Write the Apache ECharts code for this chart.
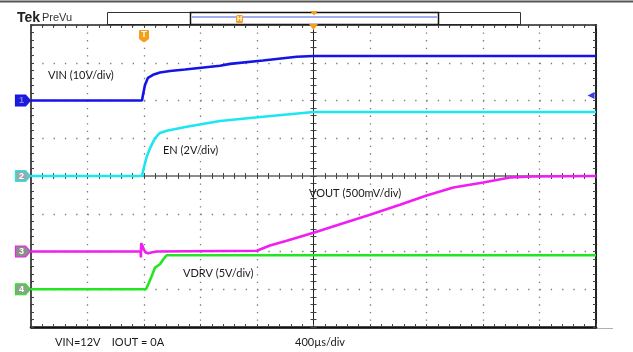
<!DOCTYPE html>
<html>
<head>
<meta charset="utf-8">
<script src="https://cdn.jsdelivr.net/npm/echarts@6/dist/echarts.min.js"></script>
<style>html,body{margin:0;padding:0;background:#fff;}#c{width:633px;height:352px;}</style>
</head>
<body>
<div id="c"></div>
<script>
// ---- data read from the scope capture (time in µs, values in volts) ----
const channelNames = ['VIN', 'EN', 'VOUT', 'VDRV'];
const channelLabels = ['VIN (10V/div)', 'EN (2V/div)', 'VOUT (500mV/div)', 'VDRV (5V/div)'];
const voltsPerDiv = [10, 2, 0.5, 5];
const groundDiv = [2, 0, -2, -3];

const vinT = [-2000, -1214, -1207, -1193, -1172, -1136, -1087, -1016, -910, -662, -591, -358, -119, 0, 2000];
const vinV = [0, 0, 1.5, 4.1, 6.0, 6.8, 7.4, 7.8, 8.2, 9.2, 9.7, 10.6, 11.6, 11.8, 11.8];

const enT = [-2000, -1214, -1205, -1181, -1157, -1122, -1087, -1039, -898, -662, -358, 0, 2000];
const enV = [0, 0, 0.32, 1.02, 1.48, 2.01, 2.28, 2.4, 2.61, 2.91, 3.14, 3.39, 3.39];

const voutT = [-2000, -1224, -1222, -1220, -1212, -1200, -1185, -1170, -1140, -1108, -401, -308, -190, 6, 188, 400, 612, 801, 990, 1202, 1391, 1554, 2000];
const voutV = [0, 0, -0.08, 0.11, 0.08, 0.02, -0.015, -0.023, -0.01, 0, 0.009, 0.079, 0.142, 0.252, 0.362, 0.486, 0.618, 0.742, 0.848, 0.914, 0.98, 0.993, 1.0];

const vdrvT = [-2000, -1186, -1170, -1145, -1122, -1087, -1063, -1039, 2000];
const vdrvV = [0, 0, 0.66, 1.76, 2.87, 3.31, 3.97, 4.5, 4.5];

const timeMin = -2000, timeMax = 2000, timePerDiv = 400;
const divMin = -4, divMax = 4;
const triggerTime = -1200;
const triggerLevelVin = 1.3;
const footerLeft = 'VIN=12V    IOUT = 0A';
const footerTime = '400µs/div';

// ---- styles ----
const traceColors = ['#1414e6', '#1ee6f0', '#f01ef0', '#22e622'];
const markerFill = ['#1c1ce0', '#8fb0b0', '#8c8c8c', '#84a884'];
const markerText = ['#8a8ad0', '#ffffff', '#ffffff', '#ffffff'];
const orange = '#f5a01a';

const times = [vinT, enT, voutT, vdrvT];
const volts = [vinV, enV, voutV, vdrvV];

function toDiv(v, i) { return groundDiv[i] + v / voltsPerDiv[i]; }

const chart = echarts.init(document.getElementById('c'), null, {renderer: 'canvas'});

const tickStyle = {color: '#444', width: 1};
function baseX(extra) {
  return Object.assign({type: 'value', min: timeMin, max: timeMax, interval: timePerDiv,
    axisLabel: {show: false}, splitLine: {show: false}}, extra);
}
function baseY(extra) {
  return Object.assign({type: 'value', min: divMin, max: divMax, interval: 1,
    axisLabel: {show: false}, splitLine: {show: false}}, extra);
}

const xAxes = [
  baseX({position: 'bottom',
    axisLine: {onZero: false, lineStyle: {color: '#111', width: 2.5}},
    axisTick: {show: true, inside: true, length: 3, lineStyle: tickStyle},
    minorTick: {show: true, splitNumber: 5, length: 3, lineStyle: tickStyle},
    splitLine: {show: true, lineStyle: {color: '#7a7a7a', width: 1.3, type: [1.3, 6.25]}}}),
  baseX({position: 'top',
    axisLine: {onZero: false, lineStyle: {color: '#222', width: 1.5}},
    axisTick: {show: true, inside: true, length: 3, lineStyle: tickStyle},
    minorTick: {show: true, splitNumber: 5, length: 3, lineStyle: tickStyle}}),
  baseX({position: 'bottom',
    axisLine: {onZero: true, onZeroAxisIndex: 0, lineStyle: {color: '#8c8c8c', width: 2}},
    axisTick: {show: true, inside: false, length: 3, lineStyle: tickStyle},
    minorTick: {show: true, splitNumber: 5, length: 3, lineStyle: tickStyle}}),
  baseX({position: 'bottom',
    axisLine: {show: false, onZero: true, onZeroAxisIndex: 0},
    axisTick: {show: true, inside: true, length: 3, lineStyle: tickStyle},
    minorTick: {show: true, splitNumber: 5, length: 3, lineStyle: tickStyle}})
];
const yAxes = [
  baseY({position: 'left',
    axisLine: {show: true, onZero: false, lineStyle: {color: '#111', width: 1.5}},
    axisTick: {show: true, inside: true, length: 3, lineStyle: tickStyle},
    minorTick: {show: true, splitNumber: 5, length: 3, lineStyle: tickStyle},
    splitLine: {show: true, lineStyle: {color: '#7a7a7a', width: 1.3, type: [1.3, 10.0]}}}),
  baseY({position: 'right',
    axisLine: {show: true, onZero: false, lineStyle: {color: '#222', width: 2}},
    axisTick: {show: true, inside: true, length: 3, lineStyle: tickStyle},
    minorTick: {show: true, splitNumber: 5, length: 3, lineStyle: tickStyle}}),
  baseY({position: 'left',
    axisLine: {show: true, onZero: true, onZeroAxisIndex: 0, lineStyle: {color: '#222', width: 1}},
    axisTick: {show: true, inside: false, length: 3, lineStyle: tickStyle},
    minorTick: {show: true, splitNumber: 5, length: 3, lineStyle: tickStyle}}),
  baseY({position: 'left',
    axisLine: {show: false, onZero: true, onZeroAxisIndex: 0},
    axisTick: {show: true, inside: true, length: 3, lineStyle: tickStyle},
    minorTick: {show: true, splitNumber: 5, length: 3, lineStyle: tickStyle}})
];

const series = channelNames.map(function (name, i) {
  const data = times[i].map(function (t, k) { return [t, toDiv(volts[i][k], i)]; });
  const marks = [{
    coord: [timeMin, groundDiv[i]],
    symbol: 'path://M0,0 L10,0 L15,5.5 L10,11 L0,11 Z',
    symbolSize: [15, 11], symbolOffset: [-8, 0],
    itemStyle: {color: markerFill[i], borderColor: traceColors[i], borderWidth: 1},
    label: {show: true, formatter: String(i + 1), color: markerText[i], fontSize: 9,
      fontWeight: 'bold', fontFamily: 'Liberation Sans', offset: [-1.5, 0.5]}
  }];
  if (i === 0) {
    marks.push({
      coord: [timeMax, toDiv(triggerLevelVin, 0)],
      symbol: 'triangle', symbolRotate: 90, symbolSize: [7, 7], symbolOffset: [-5, 0],
      itemStyle: {color: '#3a3af0'}, label: {show: false}
    });
    marks.push({
      coord: [triggerTime, divMax],
      symbol: 'path://M1,0 L9,0 Q10,0 10,1 L10,9 L6,12 L4,12 L0,9 L0,1 Q0,0 1,0 Z',
      symbolSize: [10, 12], symbolOffset: [0, 11],
      itemStyle: {color: orange},
      label: {show: true, formatter: 'T', color: '#fff', fontSize: 9, fontWeight: 'bold',
        fontFamily: 'Liberation Sans', offset: [0, -1]}
    });
    marks.push({
      coord: [0, divMax],
      symbol: 'triangle', symbolRotate: 180, symbolSize: [9, 6], symbolOffset: [0, 2],
      itemStyle: {color: orange}, label: {show: false}
    });
  }
  return {
    type: 'line', name: name, data: data, xAxisIndex: 0, yAxisIndex: 0,
    showSymbol: false, symbol: 'none', z: 3 + i,
    lineStyle: {color: traceColors[i], width: 2.6},
    itemStyle: {color: traceColors[i]},
    markPoint: {data: marks, animation: false, silent: true}
  };
});

const labelFont = '11px Lato';
const graphics = [
  {type: 'line', shape: {x1: 0, y1: 1.5, x2: 633, y2: 1.5}, style: {stroke: '#555', lineWidth: 2}},
  {type: 'text', left: 17, top: 11, style: {text: 'Tek', font: 'bold 14px "Liberation Sans"', fill: '#222'}},
  {type: 'text', left: 42, top: 12, style: {text: 'PreVu', font: '11px "Liberation Sans"', fill: '#333'}},
  {type: 'rect', shape: {x: 107.5, y: 12.5, width: 413, height: 12}, style: {fill: 'none', stroke: '#333', lineWidth: 1}},
  {type: 'rect', shape: {x: 190.5, y: 12.5, width: 248, height: 12}, style: {fill: 'none', stroke: '#111', lineWidth: 1.5}},
  {type: 'line', shape: {x1: 192, y1: 17, x2: 437, y2: 17}, style: {stroke: '#4a5ae0', lineWidth: 1}},
  {type: 'rect', shape: {x: 236, y: 15, width: 7, height: 8, r: 1.5}, style: {fill: orange}},
  {type: 'text', x: 239.5, y: 19, style: {text: 'H', font: 'bold 7px "Liberation Sans"', fill: '#fff', textAlign: 'center', textVerticalAlign: 'middle'}},
  {type: 'polygon', shape: {points: [[310, 11], [318, 11], [314, 15.5]]}, style: {fill: orange}},
  {type: 'line', shape: {x1: 31, y1: 328.5, x2: 613, y2: 328.5}, style: {stroke: '#b0b0b0', lineWidth: 1}},
  {type: 'text', x: 48, y: 75, style: {text: channelLabels[0], font: labelFont, fill: '#1a1a1a', textVerticalAlign: 'middle'}},
  {type: 'text', x: 163, y: 150, style: {text: channelLabels[1], font: labelFont, fill: '#1a1a1a', textVerticalAlign: 'middle'}},
  {type: 'text', x: 309, y: 193, style: {text: channelLabels[2], font: labelFont, fill: '#1a1a1a', textVerticalAlign: 'middle'}},
  {type: 'text', x: 183, y: 273, style: {text: channelLabels[3], font: labelFont, fill: '#1a1a1a', textVerticalAlign: 'middle'}},
  {type: 'text', x: 55, y: 342, style: {text: footerLeft, font: labelFont, fill: '#1a1a1a', textVerticalAlign: 'middle'}},
  {type: 'text', x: 295, y: 342, style: {text: footerTime, font: labelFont, fill: '#1a1a1a', textVerticalAlign: 'middle'}}
];

chart.setOption({
  animation: false,
  backgroundColor: '#ffffff',
  grid: {left: 31, top: 25, width: 565, height: 302, containLabel: false},
  xAxis: xAxes,
  yAxis: yAxes,
  series: series,
  graphic: graphics
});
</script>
</body>
</html>
